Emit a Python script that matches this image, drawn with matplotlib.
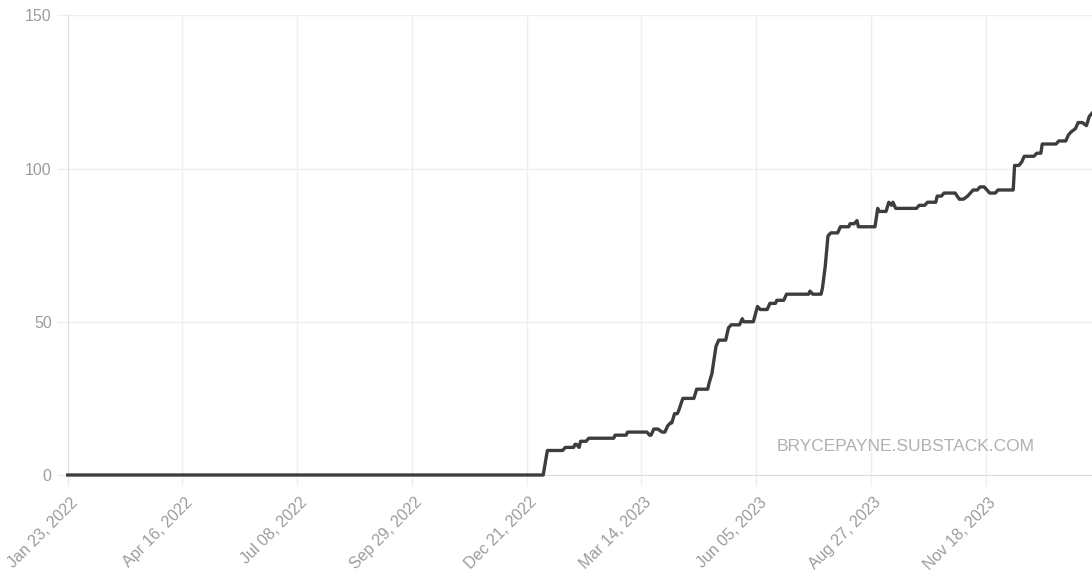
import matplotlib.pyplot as plt
import matplotlib.dates as mdates
from matplotlib.transforms import ScaledTranslation
import pandas as pd

# cumulative count (breakpoints of a step-like series)
dates = [
    "2022-01-23", "2023-01-02", "2023-01-05", "2023-01-16", "2023-01-18",
    "2023-01-24", "2023-01-25", "2023-01-26", "2023-01-28", "2023-01-29",
    "2023-02-02", "2023-02-04", "2023-02-22", "2023-02-23", "2023-03-03",
    "2023-03-04", "2023-03-18", "2023-03-20", "2023-03-21", "2023-03-23",
    "2023-03-26", "2023-03-29", "2023-03-31", "2023-04-02", "2023-04-04",
    "2023-04-05", "2023-04-07", "2023-04-09", "2023-04-10", "2023-04-13",
    "2023-04-21", "2023-04-23", "2023-05-01", "2023-05-02", "2023-05-04",
    "2023-05-07", "2023-05-09", "2023-05-14", "2023-05-16", "2023-05-18",
    "2023-05-24", "2023-05-26", "2023-05-27", "2023-06-03", "2023-06-06",
    "2023-06-08", "2023-06-13", "2023-06-15", "2023-06-19", "2023-06-20",
    "2023-06-25", "2023-06-27", "2023-07-13", "2023-07-14", "2023-07-16",
    "2023-07-22", "2023-07-23", "2023-07-25", "2023-07-27", "2023-07-29",
    "2023-08-03", "2023-08-05", "2023-08-11", "2023-08-12", "2023-08-15",
    "2023-08-17", "2023-08-18", "2023-08-30", "2023-09-01", "2023-09-02",
    "2023-09-07", "2023-09-09", "2023-09-11", "2023-09-12", "2023-09-14",
    "2023-09-29", "2023-10-01", "2023-10-05", "2023-10-07", "2023-10-13",
    "2023-10-14", "2023-10-17", "2023-10-19", "2023-10-27", "2023-10-30",
    "2023-11-02", "2023-11-05", "2023-11-09", "2023-11-12", "2023-11-14",
    "2023-11-17", "2023-11-21", "2023-11-25", "2023-11-27", "2023-12-08",
    "2023-12-09", "2023-12-12", "2023-12-14", "2023-12-16", "2023-12-23",
    "2023-12-25", "2023-12-28", "2023-12-29", "2024-01-08", "2024-01-10",
    "2024-01-15", "2024-01-16", "2024-01-17", "2024-01-19", "2024-01-22",
    "2024-01-24", "2024-01-27", "2024-01-30", "2024-02-01", "2024-02-03",
]
values = [
    0, 0, 8, 8, 9,
    9, 10, 10, 9, 11,
    11, 12, 12, 13, 13,
    14, 14, 13, 13, 15,
    15, 14, 14, 16, 17,
    17, 20, 20, 21, 25,
    25, 28, 28, 30, 33,
    42, 44, 44, 48, 49,
    49, 51, 50, 50, 55,
    54, 54, 56, 56, 57,
    57, 59, 59, 60, 59,
    59, 61, 68, 78, 79,
    79, 81, 81, 82, 82,
    83, 81, 81, 87, 86,
    86, 89, 88, 89, 87,
    87, 88, 88, 89, 89,
    91, 91, 92, 92, 90,
    90, 91, 93, 93, 94,
    94, 92, 92, 93, 93,
    101, 101, 102, 104, 104,
    105, 105, 108, 108, 109,
    109, 110, 111, 112, 113,
    115, 115, 114, 117, 118,
]

tick_dates = ["2022-01-23", "2022-04-16", "2022-07-08", "2022-09-29", "2022-12-21",
              "2023-03-14", "2023-06-05", "2023-08-27", "2023-11-18"]
y_ticks = [0, 50, 100, 150]
watermark = "BRYCEPAYNE.SUBSTACK.COM"

plt.rcParams["font.family"] = ["Liberation Sans", "DejaVu Sans"]

GRID = "#efefef"
LABEL = "#9c9c9c"

x = pd.to_datetime(dates)

fig = plt.figure(figsize=(10.92, 5.88), dpi=100)
ax = fig.add_axes([67.7 / 1092, 113 / 588, (1092 - 67.7) / 1092, 459.7 / 588])

ax.plot(x, values, color="#3d3d3d", lw=2.4, solid_joinstyle="round", clip_on=False, zorder=3)

ax.set_xlim(pd.Timestamp("2022-01-23"), pd.Timestamp("2024-02-03"))
ax.set_ylim(0, 150)

ax.set_xticks(pd.to_datetime(tick_dates))
ax.xaxis.set_major_formatter(mdates.DateFormatter("%b %d, %Y"))
ax.set_yticks(y_ticks)

ax.grid(True, color=GRID, lw=1)
ax.set_axisbelow(True)
for s in ["top", "right"]:
    ax.spines[s].set_visible(False)
ax.spines["left"].set_color("#dedede")
ax.spines["bottom"].set_color("#dedede")

ax.tick_params(axis="both", colors=GRID, labelcolor=LABEL, labelsize=11.5, length=8, width=1)
ax.tick_params(axis="y", pad=3.5)

# rotated date labels: right end centred a little right of / below the tick
shift = ScaledTranslation(0.08, -0.09, fig.dpi_scale_trans)
for lab in ax.get_xticklabels():
    lab.set_rotation(45)
    lab.set_ha("right")
    lab.set_va("center")
    lab.set_rotation_mode("anchor")
    lab.set_transform(lab.get_transform() + shift)

fig.text(1035 / 1092, 1 - 451 / 588, watermark, color="#b0b0b0", fontsize=12.5,
         ha="right", va="baseline")

fig.savefig("out.png", dpi=100)
